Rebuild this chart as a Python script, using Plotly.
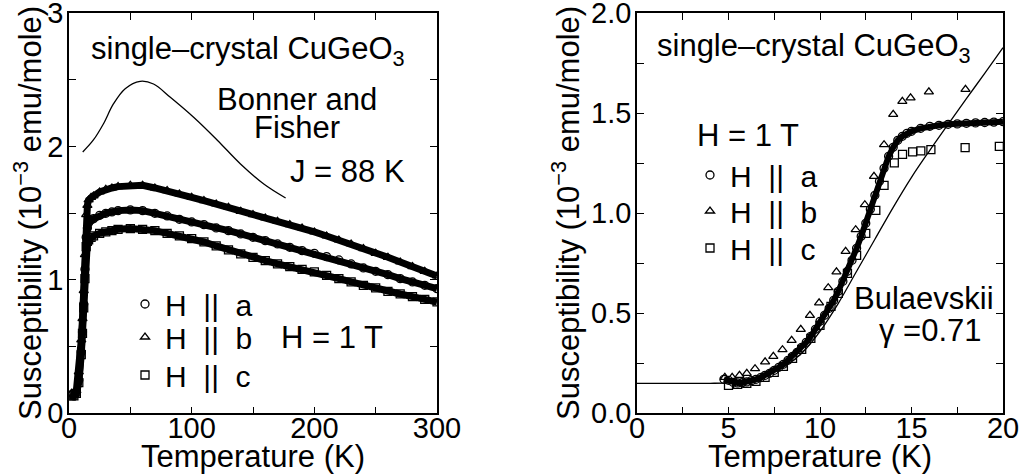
import plotly.graph_objects as go

FONT = "Liberation Sans, Arial, Helvetica, sans-serif"
BLACK = "black"

# ---------------- left panel: 0-300 K ----------------
T_left = [2, 4, 6, 8, 10, 11, 12, 13, 14, 15, 16, 18, 20, 25, 30, 35, 40, 50, 60, 70,
          80, 90, 100, 110, 120, 130, 140, 150, 160, 170, 180, 190, 200, 210, 220,
          230, 240, 250, 260, 270, 280, 290, 300]
chi_a_left = [0.14, 0.13, 0.15, 0.25, 0.46, 0.61, 0.82, 1.08, 1.32, 1.39, 1.43, 1.45, 1.46,
              1.485, 1.50, 1.51, 1.52, 1.525, 1.52, 1.50, 1.48, 1.455, 1.435, 1.415, 1.39,
              1.37, 1.345, 1.32, 1.295, 1.27, 1.245, 1.22, 1.20, 1.175, 1.15, 1.12, 1.09,
              1.065, 1.04, 1.01, 0.985, 0.96, 0.935]
chi_b_left = [0.15, 0.14, 0.17, 0.31, 0.55, 0.71, 0.92, 1.19, 1.49, 1.56, 1.60, 1.62, 1.63,
              1.66, 1.68, 1.69, 1.70, 1.71, 1.71, 1.69, 1.67, 1.645, 1.62, 1.595, 1.57,
              1.545, 1.515, 1.49, 1.465, 1.44, 1.415, 1.39, 1.36, 1.33, 1.30, 1.27, 1.235,
              1.20, 1.17, 1.135, 1.10, 1.065, 1.03]
chi_c_left = [0.13, 0.13, 0.15, 0.23, 0.44, 0.60, 0.79, 1.01, 1.25, 1.29, 1.30, 1.32, 1.33,
              1.35, 1.36, 1.37, 1.38, 1.385, 1.38, 1.37, 1.35, 1.33, 1.31, 1.285, 1.255,
              1.225, 1.195, 1.17, 1.145, 1.12, 1.10, 1.08, 1.06, 1.035, 1.01, 0.985, 0.96,
              0.94, 0.915, 0.895, 0.875, 0.855, 0.835]

# Bonner-Fisher curve, J = 88 K
T_bf = [11.2, 19.9, 28, 36.2, 45.8, 58, 68.9, 82.6, 101.6, 120.7, 139.8, 158.8, 176.6]
chi_bf = [1.96, 2.05, 2.17, 2.32, 2.435, 2.49, 2.47, 2.37, 2.22, 2.05, 1.87, 1.72, 1.615]

# ---------------- right panel: 0-20 K ----------------
T_a_right = [4.75, 5.0, 5.25, 5.5, 5.75, 6.0, 6.25, 6.5, 6.75, 7.0, 7.25, 7.5, 7.75, 8.0,
             8.25, 8.5, 8.75, 9.0, 9.25, 9.5, 9.75, 10.0, 10.25, 10.5, 10.75, 11.0, 11.25,
             11.5, 11.75, 12.0, 12.25, 12.5, 12.75, 13.0, 13.25, 13.5, 13.75, 14.0, 14.25,
             14.5, 14.75, 15.0, 15.5, 16.0, 16.5, 17.0, 17.5, 18.0, 18.5, 19.0, 19.5, 20.0]
chi_a_right = [0.17, 0.165, 0.155, 0.152, 0.153, 0.157, 0.163, 0.17, 0.178, 0.19, 0.2,
               0.215, 0.23, 0.245, 0.265, 0.285, 0.305, 0.33, 0.355, 0.385, 0.42, 0.46,
               0.49, 0.525, 0.565, 0.61, 0.66, 0.71, 0.765, 0.825, 0.885, 0.95, 1.02, 1.09,
               1.16, 1.225, 1.285, 1.33, 1.365, 1.385, 1.40, 1.41, 1.425, 1.435, 1.44,
               1.445, 1.447, 1.45, 1.452, 1.454, 1.456, 1.458]

T_b_right = [4.8, 5.2, 5.6, 6.0, 6.45, 7.0, 7.45, 7.95, 8.45, 8.95, 9.45, 9.95, 10.45,
             10.9, 11.4, 11.95, 12.45, 12.95, 13.5, 14.0, 14.5, 14.95, 15.95, 17.95]
chi_b_right = [0.18, 0.18, 0.19, 0.2, 0.223, 0.257, 0.285, 0.318, 0.365, 0.42, 0.49,
               0.552, 0.628, 0.707, 0.81, 0.918, 1.043, 1.185, 1.343, 1.495, 1.56, 1.577,
               1.607, 1.62]

T_c_right = [5.0, 5.5, 6.0, 6.5, 7.0, 7.5, 8.0, 8.5, 9.0, 9.5, 10.0, 10.6, 11.0, 11.5,
             12.0, 12.5, 13.05, 13.5, 14.06, 14.51, 15.06, 15.51, 16.06, 17.93, 19.8]
chi_c_right = [0.14, 0.145, 0.15, 0.16, 0.18, 0.205, 0.235, 0.275, 0.32, 0.375, 0.44,
               0.535, 0.6, 0.7, 0.79, 0.9, 1.015, 1.14, 1.252, 1.295, 1.307, 1.312, 1.318,
               1.328, 1.335]

# Bulaevskii curve, gamma = 0.71
T_bul = [0, 4, 5, 6, 7, 8, 9, 10, 11, 12, 13, 14, 15, 16, 17, 18, 19, 20]
chi_bul = [0.15, 0.15, 0.152, 0.16, 0.185, 0.23, 0.30, 0.41, 0.55, 0.71, 0.87, 1.03,
           1.18, 1.315, 1.445, 1.573, 1.70, 1.828]

# axis ticks
x_left_ticks = [0, 50, 100, 150, 200, 250, 300]
x_left_text = ["0", "", "100", "", "200", "", "300"]
y_left_ticks = [0, 0.5, 1, 1.5, 2, 2.5, 3]
y_left_text = ["0", "", "1", "", "2", "", "3"]
x_right_ticks = [0, 2.5, 5, 7.5, 10, 12.5, 15, 17.5, 20]
x_right_text = ["0", "", "5", "", "10", "", "15", "", "20"]
y_right_ticks = [0, 0.25, 0.5, 0.75, 1.0, 1.25, 1.5, 1.75, 2.0]
y_right_text = ["0.0", "", "0.5", "", "1.0", "", "1.5", "", "2.0"]

labels = ["H  ||  a", "H  ||  b", "H  ||  c"]
symbols = ["circle-open", "triangle-up-open", "square-open"]
left_legends = ["legend", "legend3", "legend4"]
right_legends = ["legend2", "legend5", "legend6"]

x_title = "Temperature (K)"
y_title = "Susceptibility (10<sup>\u22123</sup> emu/mole)"

# page geometry: pixel -> paper conversion
W, H = 1022, 475


def px(x):
    return x / W


def py(y):
    return (H - y) / H


fig = go.Figure()


def marker(sym):
    return dict(symbol=sym, size=8, color=BLACK, line=dict(color=BLACK, width=1.3))


# left panel: dense data bands
for chi in [chi_b_left, chi_a_left, chi_c_left]:
    fig.add_trace(go.Scatter(x=T_left, y=chi, mode="lines", line=dict(color=BLACK, width=7),
                             showlegend=False, hoverinfo="skip", xaxis="x", yaxis="y"))
for chi, sym, name, lg in zip([chi_a_left, chi_b_left, chi_c_left], symbols, labels,
                              left_legends):
    fig.add_trace(go.Scatter(x=T_left, y=chi, mode="markers", marker=marker(sym),
                             name=name, legend=lg, xaxis="x", yaxis="y"))
fig.add_trace(go.Scatter(x=T_bf, y=chi_bf, mode="lines", line=dict(color=BLACK, width=1.3,
                         shape="spline"), showlegend=False, xaxis="x", yaxis="y"))

# right panel
fig.add_trace(go.Scatter(x=T_bul, y=chi_bul, mode="lines", line=dict(color=BLACK, width=1.3,
                         shape="spline"), showlegend=False, xaxis="x2", yaxis="y2"))
fig.add_trace(go.Scatter(x=T_a_right, y=chi_a_right, mode="lines",
                         line=dict(color=BLACK, width=6), showlegend=False,
                         hoverinfo="skip", xaxis="x2", yaxis="y2"))
for T, chi, sym, name, lg in zip([T_a_right, T_b_right, T_c_right],
                                 [chi_a_right, chi_b_right, chi_c_right], symbols, labels,
                                 right_legends):
    fig.add_trace(go.Scatter(x=T, y=chi, mode="markers", marker=marker(sym), name=name,
                             legend=lg, xaxis="x2", yaxis="y2"))

tick_font = dict(family=FONT, size=29, color=BLACK)
title_font = dict(family=FONT, size=31, color=BLACK)


def axis(domain, rng, tv, tt, anchor, label_shift):
    return dict(domain=domain, range=rng, tickvals=tv, ticktext=tt, ticks="inside",
                ticklen=7, tickwidth=1.3, tickcolor=BLACK, showline=True, linewidth=1.5,
                linecolor=BLACK, mirror="allticks", showgrid=False, zeroline=False,
                tickfont=tick_font, anchor=anchor, automargin=False,
                ticklabeloverflow="allow", ticklabelstandoff=label_shift)


yd = [py(413.3), py(13.3)]


def legend_at(x, y):
    return dict(x=px(x), y=py(y), xanchor="left", yanchor="middle",
                font=dict(family=FONT, size=30, color=BLACK), bgcolor="rgba(0,0,0,0)",
                borderwidth=0, itemsizing="trace", tracegroupgap=0)


fig.update_layout(
    width=W, height=H, margin=dict(l=0, r=0, t=0, b=0, autoexpand=False),
    paper_bgcolor="white", plot_bgcolor="white", font=dict(family=FONT, color=BLACK),
    xaxis=axis([px(69), px(437)], [0, 300], x_left_ticks, x_left_text, "y", -12),
    yaxis=axis(yd, [0, 3], y_left_ticks, y_left_text, "x", -2),
    xaxis2=axis([px(637), px(1003)], [0, 20], x_right_ticks, x_right_text, "y2", -12),
    yaxis2=axis(yd, [0, 2], y_right_ticks, y_right_text, "x2", -2),
    legend=legend_at(125, 304),
    legend3=legend_at(125, 337),
    legend4=legend_at(125, 375),
    legend2=legend_at(690, 175),
    legend5=legend_at(690, 211),
    legend6=legend_at(690, 248),
    showlegend=True,
)

# axis titles
for xc, yc, txt, angle in [(253, 456, x_title, 0), (820, 456, x_title, 0),
                           (28, 213, y_title, -90), (566, 213, y_title, -90)]:
    fig.add_annotation(xref="paper", yref="paper", x=px(xc), y=py(yc), text=txt,
                       textangle=angle, showarrow=False, xanchor="center",
                       yanchor="middle", font=title_font)

ann_font = dict(family=FONT, size=31, color=BLACK)
notes = [
    ("x", "y", 146, 2.72, "single\u2013crystal CuGeO<sub>3</sub>", "center"),
    ("x", "y", 185.6, 2.355, "Bonner and", "center"),
    ("x", "y", 185.6, 2.14, "Fisher", "center"),
    ("x", "y", 178.5, 1.81, "J = 88 K", "left"),
    ("x", "y", 170.8, 0.57, "H = 1 T", "left"),
    ("x2", "y2", 9.65, 1.825, "single\u2013crystal CuGeO<sub>3</sub>", "center"),
    ("x2", "y2", 3.16, 1.39, "H = 1 T", "left"),
    ("x2", "y2", 19.6, 0.575, "Bulaevskii", "right"),
    ("x2", "y2", 18.96, 0.415, "\u03b3 =0.71", "right"),
]
for xr, yr, xv, yv, txt, anc in notes:
    fig.add_annotation(xref=xr, yref=yr, x=xv, y=yv, text=txt, showarrow=False,
                       xanchor=anc, yanchor="middle", font=ann_font)

fig.write_html("out.html")
